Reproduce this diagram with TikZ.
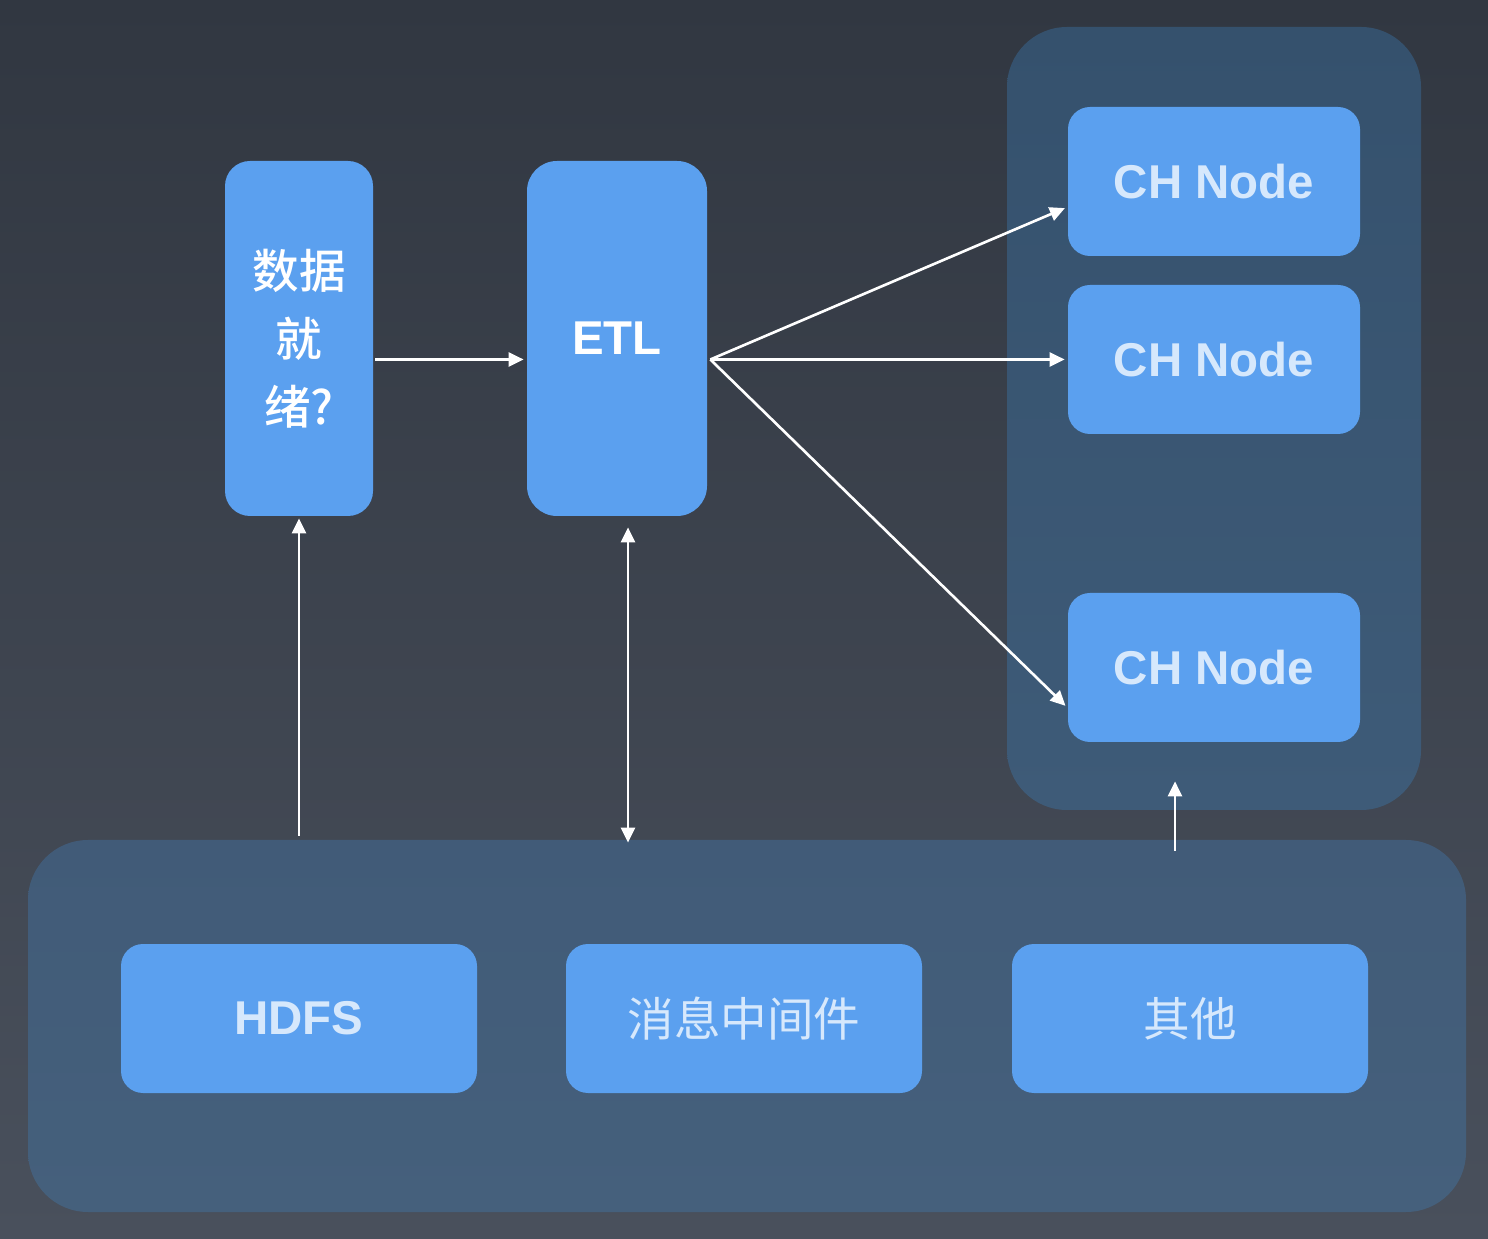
\documentclass[tikz,border=0pt]{standalone}
\usepackage{fontspec}
\setmainfont{Liberation Sans}
\newfontfamily\cjk{Noto Sans CJK SC}[BoldFont={Noto Sans CJK SC Medium}]
\usetikzlibrary{positioning,arrows.meta,calc}
\definecolor{pgBgTop}{RGB}{49,55,65}
\definecolor{pgBgBot}{RGB}{73,80,92}
\definecolor{pgBlue}{RGB}{91,160,239}
\definecolor{pgText}{RGB}{214,232,252}
\definecolor{pgGroupTop}{RGB}{53,81,109}
\definecolor{pgGroupBot}{RGB}{62,91,120}
\definecolor{pgStoreTop}{RGB}{65,91,120}
\definecolor{pgStoreBot}{RGB}{69,96,124}

\begin{document}
\begin{tikzpicture}[
  group/.style={rounded corners=1.2cm, inner sep=0pt},
  box/.style={fill=pgBlue, rounded corners=0.44cm, inner sep=0pt, text=pgText,
    font=\fontsize{27}{32}\selectfont\bfseries},
  cjkbox/.style={box, font=\fontsize{26.5}{32}\selectfont\cjk},
  flow/.style={draw=white, line width=1.5pt, -{Triangle[length=0.3cm,width=0.28cm]}},
  both/.style={flow, {Triangle[length=0.3cm,width=0.28cm]}-{Triangle[length=0.3cm,width=0.28cm]}}
]
  \useasboundingbox (0,0) rectangle (29.76,24.76);
  \shade[top color=pgBgTop, bottom color=pgBgBot] (0,0) rectangle (29.76,24.76);

  % ClickHouse cluster
  \node[group, top color=pgGroupTop, bottom color=pgGroupBot, minimum width=8.28cm, minimum height=15.66cm] (chgroup) at (24.28,16.39) {};
  \node[box, minimum width=5.84cm, minimum height=2.98cm] (ch1) at (24.28,21.13) {CH Node};
  \node[box, minimum width=5.84cm, minimum height=2.98cm] (ch2) at (24.28,17.57) {CH Node};
  \node[box, minimum width=5.84cm, minimum height=2.98cm] (ch3) at (24.28,11.41) {CH Node};

  % Data sources
  \node[group, top color=pgStoreTop, bottom color=pgStoreBot, minimum width=28.76cm, minimum height=7.44cm] (store) at (14.94,4.24) {};
  \node[box, minimum width=7.12cm, minimum height=2.98cm] (hdfs) at (5.98,4.39) {HDFS};
  \node[cjkbox, minimum width=7.12cm, minimum height=2.98cm] (mq) at (14.88,4.39) {消息中间件};
  \node[cjkbox, minimum width=7.12cm, minimum height=2.98cm] (other) at (23.8,4.39) {其他};

  % Ready check and ETL
  \node[box, rounded corners=0.5cm, minimum width=2.96cm, minimum height=7.1cm, text=white, align=center,
    font=\fontsize{26.5}{38.7}\selectfont\cjk\bfseries] (ready) at (5.98,17.99) {数据\\就\\绪?};
  \node[box, rounded corners=0.6cm, minimum width=3.6cm, minimum height=7.1cm, text=white] (etl) at (12.34,17.99) {ETL};

  % Connectors
  \draw[flow, shorten <=0.04cm, shorten >=0.06cm] (ready.east |- ch2) -- (etl.west |- ch2);
  \coordinate (fan) at ($(etl.east |- ch2)+(0.06,0)$);
  \draw[flow, shorten >=0.06cm] (fan) -- ($(ch1.west)!0.34!(ch1.south west)$);
  \draw[flow, shorten >=0.06cm] (fan) -- (ch2.west);
  \draw[flow, shorten >=0.06cm] (fan) -- ($(ch3.west)!0.54!(ch3.south west)$);
  \draw[flow, shorten >=0.04cm] ($(store.north -| hdfs)+(0,0.08)$) -- (ready.south);
  \draw[both] ($(etl.south)+(0.22,-0.22)$) -- ($(etl.south |- store.north)+(0.22,-0.06)$);
  \draw[flow] ($(other.north |- store.north)+(-0.3,-0.22)$) -- ($(other.north |- chgroup.south)+(-0.3,0.58)$);
\end{tikzpicture}
\end{document}
